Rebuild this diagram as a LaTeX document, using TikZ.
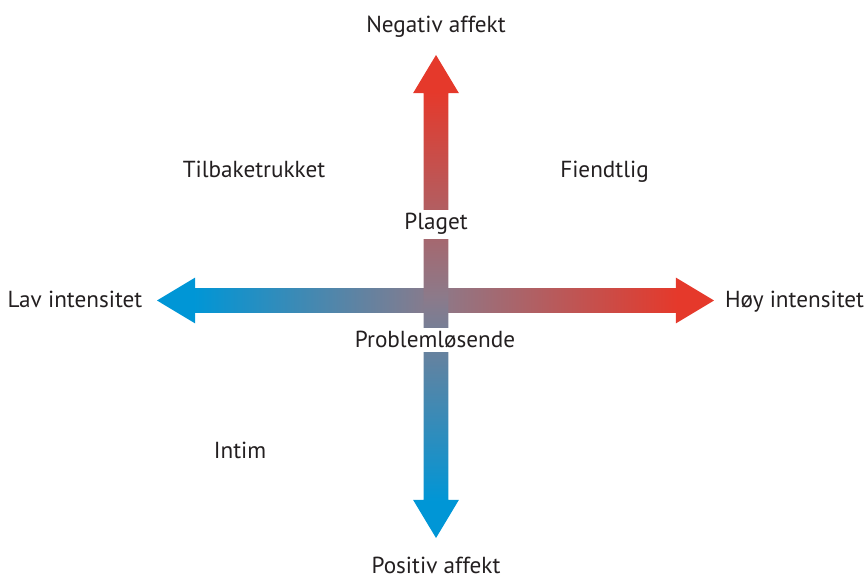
\documentclass[tikz,border=0pt]{standalone}
\usepackage{fontspec}
\setmainfont{PT Sans}
\usetikzlibrary{shapes.arrows,positioning}

\definecolor{axisred}{RGB}{229,57,43}
\definecolor{axisblue}{RGB}{0,150,214}
\definecolor{axismid}{RGB}{140,122,138}
\definecolor{labelgray}{RGB}{35,31,32}

% solid heads, gradient along the shaft
\pgfdeclarehorizontalshading{hgrad}{100bp}{color(0bp)=(axisblue); color(28.3bp)=(axisblue); color(50bp)=(axismid); color(71.7bp)=(axisred); color(100bp)=(axisred)}
\pgfdeclareverticalshading{vgrad}{100bp}{color(0bp)=(axisblue); color(28.8bp)=(axisblue); color(50bp)=(axismid); color(71.2bp)=(axisred); color(100bp)=(axisred)}

\begin{document}
\begin{tikzpicture}[
    x=0.5pt, y=0.5pt,
    axis/.style={double arrow, draw=none, shade, inner sep=6pt, minimum width=22.5pt, double arrow head extend=5.25pt, double arrow tip angle=62},
    lbl/.style={font=\fontsize{11.6}{13}\selectfont, text=labelgray, anchor=base, inner sep=0pt},
    onaxis/.style={lbl, fill=white, inner xsep=2pt, inner ysep=2pt}
]
\useasboundingbox (0,0) rectangle (865,578);

\node[axis, minimum height=278.5pt, shading=hgrad] (intensity) at (435.5,277.5) {};
\node[axis, minimum height=241.5pt, shading=vgrad, shape border rotate=90] (affect) at (436,281.5) {};

\node[lbl] (negative) at (436,545) {Negativ affekt};
\node[lbl] (positive) at (436,5) {Positiv affekt};
\node[lbl] (low) at (75,270) {Lav intensitet};
\node[lbl] (high) at (794.5,270) {Høy intensitet};

\node[lbl] (withdrawn) at (254,400) {Tilbaketrukket};
\node[lbl] (hostile) at (604.5,400) {Fiendtlig};
\node[lbl] (intimate) at (240,120) {Intim};

\node[onaxis] (troubled) at (436,348) {Plaget};
\node[onaxis] (solving) at (435,230) {Problemløsende};

\end{tikzpicture}
\end{document}
